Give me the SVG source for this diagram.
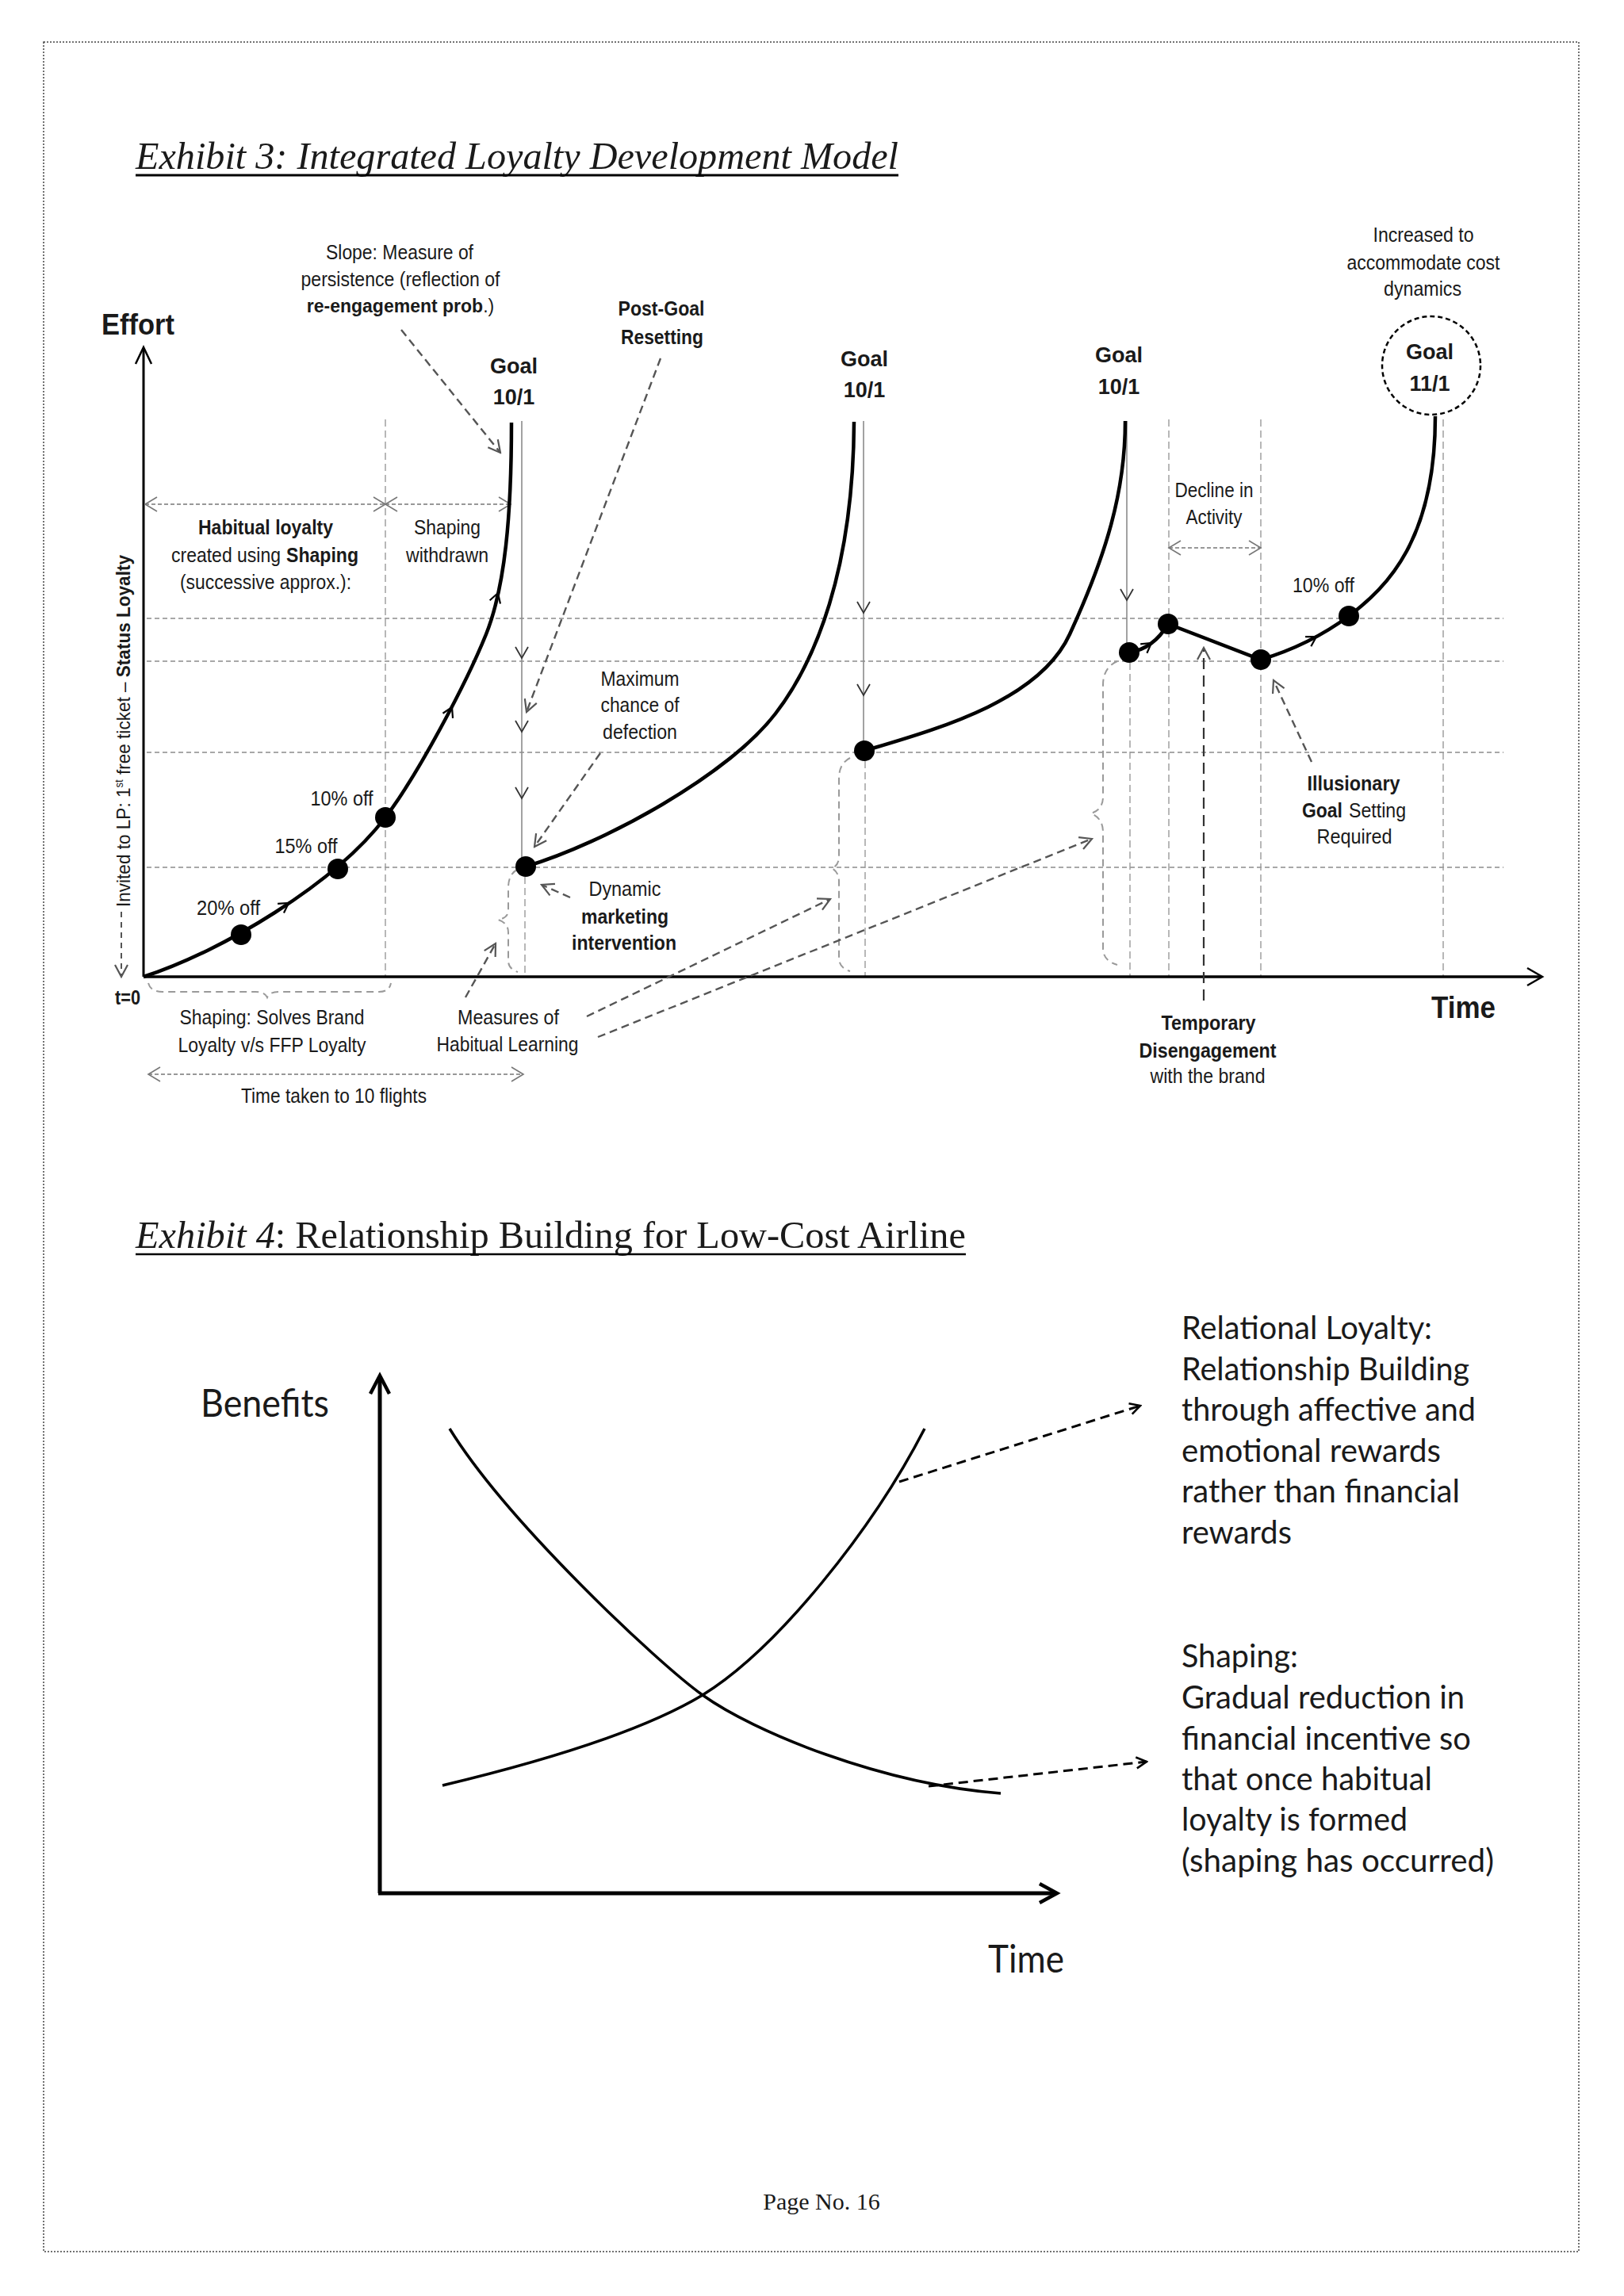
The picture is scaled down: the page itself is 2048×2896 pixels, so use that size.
<svg xmlns="http://www.w3.org/2000/svg" width="2048" height="2896" viewBox="0 0 2048 2896">
<defs>
<style>
text { fill:#1a1a1a; }
.t { font-family:'Liberation Sans',Arial,sans-serif; font-size:25px; }
.m { text-anchor:middle; }
.b { font-weight:bold; }
.goal { font-family:'Liberation Sans',Arial,sans-serif; font-size:27px; font-weight:bold; text-anchor:middle; }
.serif { font-family:'Liberation Serif','Times New Roman',serif; }
.e4 { font-family:Lato,'Noto Sans',sans-serif; font-size:40px; }
.grid { stroke:#8c8c8c; stroke-width:1.5; stroke-dasharray:6 4; fill:none; }
.vgrid { stroke:#9a9a9a; stroke-width:1.4; stroke-dasharray:9 5; fill:none; }
.vsolid { stroke:#8c8c8c; stroke-width:1.6; fill:none; }
.axis { stroke:#000; stroke-width:3.5; fill:none; }
.curve { stroke:#000; stroke-width:4.5; fill:none; }
.dot { fill:#000; }
.ann { stroke:#555; stroke-width:2.4; stroke-dasharray:10 6; fill:none; marker-end:url(#ah); }
.brace { stroke:#9a9a9a; stroke-width:2; stroke-dasharray:9 6; fill:none; }
.dbl { stroke:#777; stroke-width:1.6; stroke-dasharray:5 3; fill:none; marker-start:url(#ahg); marker-end:url(#ahg); }
.chev { fill:none; stroke:#000; stroke-width:2.2; }
.vchev { fill:none; stroke:#333; stroke-width:1.8; }
.e4line { stroke:#000; stroke-width:3.5; fill:none; }
.e4ann { stroke:#000; stroke-width:3; stroke-dasharray:12 7; fill:none; marker-end:url(#ahb); }
</style>
<marker id="ah" viewBox="-18 -10 20 20" markerWidth="20" markerHeight="20" refX="0" refY="0" orient="auto" markerUnits="userSpaceOnUse"><path d="M-15,-8 L0,0 L-15,8" fill="none" stroke="#555" stroke-width="2.2"/></marker>
<marker id="ahg" viewBox="-18 -11 20 22" markerWidth="20" markerHeight="22" refX="0" refY="0" orient="auto-start-reverse" markerUnits="userSpaceOnUse"><path d="M-15,-9 L0,0 L-15,9" fill="none" stroke="#777" stroke-width="1.6"/></marker>
<marker id="ahb" viewBox="-16 -9 18 18" markerWidth="18" markerHeight="18" refX="0" refY="0" orient="auto" markerUnits="userSpaceOnUse"><path d="M-13,-7 L0,0 L-13,7" fill="none" stroke="#000" stroke-width="2.6"/></marker>
<path id="chv" d="M-12,-7 L0,0 L-12,7"/>
<path id="vch" d="M-8,-14 L0,0 L8,-14"/>
</defs>

<rect x="0" y="0" width="2048" height="2896" fill="#fff"/>
<rect id="page-border" x="55" y="53" width="1936" height="2787" fill="none" stroke="#444" stroke-width="1.5" stroke-dasharray="2 2"/>

<g id="exhibit3-title">
<text class="serif" x="171" y="213" style="font-size:48px;font-style:italic" textLength="962" lengthAdjust="spacingAndGlyphs">Exhibit 3: Integrated Loyalty Development Model</text>
<line x1="171" y1="221" x2="1133" y2="221" stroke="#000" stroke-width="3"/>
</g>

<g id="exhibit3">
<g id="gridlines">
<path class="grid" d="M185,780 H1896 M185,834 H1896 M185,949 H1896 M185,1094 H1896"/>
<path class="vgrid" d="M486,529 V1232 M662,1106 V1232 M1091,960 V1232 M1425,836 V1232 M1474,529 V1232 M1590,529 V1232 M1820,529 V1232"/>
<path class="vsolid" d="M658,531 V1082 M1089,531 V936 M1421,531 V812"/>
<use href="#vch" class="vchev" x="658" y="830"/>
<use href="#vch" class="vchev" x="658" y="923"/>
<use href="#vch" class="vchev" x="658" y="1007"/>
<use href="#vch" class="vchev" x="1089" y="773"/>
<use href="#vch" class="vchev" x="1089" y="877"/>
<use href="#vch" class="vchev" x="1421" y="757"/>
</g>

<g id="axes">
<path class="axis" style="stroke-width:3" d="M181,1232 V439"/>
<path class="axis" style="stroke-width:2.5" d="M171,459 L181,438 L191,459"/>
<path class="axis" d="M181,1232 H1943"/>
<path class="axis" style="stroke-width:2.5" d="M1926,1221 L1945,1232 L1926,1243"/>
<text class="t b" x="128" y="422" style="font-size:37px" textLength="92" lengthAdjust="spacingAndGlyphs">Effort</text>
<text class="t b" x="1805" y="1284" style="font-size:38px" textLength="81" lengthAdjust="spacingAndGlyphs">Time</text>
<text class="t b" x="145" y="1267" style="font-size:26px" textLength="32" lengthAdjust="spacingAndGlyphs">t=0</text>
<text class="t" transform="translate(164,1144) rotate(-90)" style="font-size:24px" textLength="444" lengthAdjust="spacingAndGlyphs">Invited to LP: 1<tspan style="font-size:14px" dy="-9">st</tspan><tspan dy="9"> free ticket – </tspan><tspan class="b">Status Loyalty</tspan></text>
<path class="ann" style="stroke-width:2;stroke-dasharray:7 6" d="M153,1150 L153,1232"/>
</g>

<g id="braces">
<path class="brace" d="M187,1240 Q190,1251 205,1251 L322,1251 Q334,1251 337,1258 Q340,1251 352,1251 L478,1251 Q491,1251 493,1240"/>
<path class="brace" d="M652,1097 Q641,1103 641,1120 L641,1148 Q641,1158 628,1160 Q641,1164 641,1176 L641,1212 Q641,1222 653,1226"/>
<path class="brace" d="M1072,956 Q1058,963 1058,982 L1058,1080 Q1058,1092 1049,1095 Q1058,1100 1058,1112 L1058,1208 Q1058,1221 1072,1225"/>
<path class="brace" d="M1409,834 Q1391,842 1391,864 L1391,1005 Q1391,1021 1376,1026 Q1391,1032 1391,1050 L1391,1196 Q1391,1212 1409,1217"/>
</g>

<g id="connectors">
<path class="ann" d="M506,416 L631,571"/>
<path class="ann" d="M833,452 L664,898"/>
<path class="ann" d="M757,950 L674,1068"/>
<path class="ann" d="M719,1132 L683,1116"/>
<path class="ann" d="M587,1258 L625,1190"/>
<path class="ann" d="M740,1282 L1047,1134"/>
<path class="ann" d="M754,1308 L1377,1058"/>
<path class="ann" d="M1654,961 L1606,858"/>
<path class="ann" style="stroke:#333;stroke-dasharray:14 8;stroke-width:2.2" d="M1518,1262 L1518,817"/>
<path class="dbl" d="M183,636 H486"/>
<path class="dbl" d="M486,636 H644"/>
<path class="dbl" d="M187,1355 H660"/>
<path class="dbl" d="M1474,691 H1590"/>
<path class="e4ann" d="M1134,1869 L1438,1773"/>
<path class="e4ann" d="M1171,2253 L1446,2222"/>
</g>

<g id="curve-goal1">
<path class="curve" d="M181,1232 C280,1200 422,1115 486,1031 C527,977 588,862 613,800 C637,740 645,650 645,533"/>
<use href="#chv" class="chev" transform="translate(364,1139) rotate(-34)"/>
<use href="#chv" class="chev" transform="translate(570,892) rotate(-64)"/>
<use href="#chv" class="chev" transform="translate(628,748) rotate(-72)"/>
</g>
<g id="curve-goal2">
<path class="curve" d="M663,1093 C763,1063 918,978 978,900 C1028,835 1076,720 1077,532"/>
</g>
<g id="curve-goal3">
<path class="curve" d="M1090,947 C1180,920 1310,885 1349,800 C1395,700 1419,620 1419,531"/>
</g>
<g id="curve-goal4">
<path class="curve" d="M1424,823 Q1455,818 1473,787 L1590,832 C1630,820 1670,800 1701,777 C1750,740 1810,680 1810,525"/>
<use href="#chv" class="chev" transform="translate(1452,811) rotate(-36)"/>
<use href="#chv" class="chev" transform="translate(1660,803) rotate(-31)"/>
</g>

<g id="dot-20off"><circle class="dot" cx="304" cy="1179" r="13"/><text class="t m" x="288" y="1154" textLength="80" lengthAdjust="spacingAndGlyphs">20% off</text></g>
<g id="dot-15off"><circle class="dot" cx="426" cy="1096" r="13"/><text class="t m" x="386" y="1076" textLength="79" lengthAdjust="spacingAndGlyphs">15% off</text></g>
<g id="dot-10off"><circle class="dot" cx="486" cy="1031" r="13"/><text class="t m" x="431" y="1016" textLength="79" lengthAdjust="spacingAndGlyphs">10% off</text></g>
<g id="dot-reset1"><circle class="dot" cx="663" cy="1093" r="13"/></g>
<g id="dot-reset2"><circle class="dot" cx="1090" cy="947" r="13"/></g>
<g id="dot-a"><circle class="dot" cx="1424" cy="823" r="13"/></g>
<g id="dot-b"><circle class="dot" cx="1473" cy="787" r="13"/></g>
<g id="dot-c"><circle class="dot" cx="1590" cy="832" r="13"/></g>
<g id="dot-d"><circle class="dot" cx="1701" cy="777" r="13"/><text class="t m" x="1669" y="747" textLength="78" lengthAdjust="spacingAndGlyphs">10% off</text></g>

<g id="goal1"><text class="goal" x="648" y="471">Goal</text><text class="goal" x="648" y="510">10/1</text></g>
<g id="goal2"><text class="goal" x="1090" y="462">Goal</text><text class="goal" x="1090" y="501">10/1</text></g>
<g id="goal3"><text class="goal" x="1411" y="457">Goal</text><text class="goal" x="1411" y="497">10/1</text></g>
<g id="goal4">
<circle cx="1805" cy="461" r="62" fill="none" stroke="#000" stroke-width="2.5" stroke-dasharray="6 4"/>
<text class="goal" x="1803" y="453">Goal</text><text class="goal" x="1803" y="493">11/1</text>
</g>

<g id="label-slope">
<text class="t m" x="504" y="327" textLength="186" lengthAdjust="spacingAndGlyphs">Slope: Measure of</text>
<text class="t m" x="505" y="361" textLength="251" lengthAdjust="spacingAndGlyphs">persistence (reflection of</text>
<text class="t m" x="505" y="394" style="font-size:23px"><tspan class="b">re-engagement prob</tspan>.)</text>
</g>
<g id="label-postgoal">
<text class="t m b" x="834" y="398" textLength="109" lengthAdjust="spacingAndGlyphs">Post-Goal</text>
<text class="t m b" x="835" y="434" textLength="104" lengthAdjust="spacingAndGlyphs">Resetting</text>
</g>
<g id="label-increased">
<text class="t m" x="1795" y="305" textLength="127" lengthAdjust="spacingAndGlyphs">Increased to</text>
<text class="t m" x="1795" y="340" textLength="193" lengthAdjust="spacingAndGlyphs">accommodate cost</text>
<text class="t m" x="1794" y="373" textLength="98" lengthAdjust="spacingAndGlyphs">dynamics</text>
</g>
<g id="label-habitual">
<text class="t m b" x="335" y="674" textLength="170" lengthAdjust="spacingAndGlyphs">Habitual loyalty</text>
<text class="t" x="216" y="709" textLength="138" lengthAdjust="spacingAndGlyphs">created using</text>
<text class="t b" x="361" y="709" textLength="91" lengthAdjust="spacingAndGlyphs">Shaping</text>
<text class="t m" x="335" y="743" textLength="216" lengthAdjust="spacingAndGlyphs">(successive approx.):</text>
</g>
<g id="label-withdrawn">
<text class="t m" x="564" y="674" textLength="84" lengthAdjust="spacingAndGlyphs">Shaping</text>
<text class="t m" x="564" y="709" textLength="104" lengthAdjust="spacingAndGlyphs">withdrawn</text>
</g>
<g id="label-maximum">
<text class="t m" x="807" y="865" textLength="99" lengthAdjust="spacingAndGlyphs">Maximum</text>
<text class="t m" x="807" y="898" textLength="99" lengthAdjust="spacingAndGlyphs">chance of</text>
<text class="t m" x="807" y="932" textLength="94" lengthAdjust="spacingAndGlyphs">defection</text>
</g>
<g id="label-dynamic">
<text class="t m" x="788" y="1130" textLength="91" lengthAdjust="spacingAndGlyphs">Dynamic</text>
<text class="t m b" x="788" y="1165" textLength="110" lengthAdjust="spacingAndGlyphs">marketing</text>
<text class="t m b" x="787" y="1198" textLength="132" lengthAdjust="spacingAndGlyphs">intervention</text>
</g>
<g id="label-measures">
<text class="t m" x="641" y="1292" textLength="128" lengthAdjust="spacingAndGlyphs">Measures of</text>
<text class="t m" x="640" y="1326" textLength="179" lengthAdjust="spacingAndGlyphs">Habitual Learning</text>
</g>
<g id="label-shaping-solves">
<text class="t m" x="343" y="1292" textLength="233" lengthAdjust="spacingAndGlyphs">Shaping: Solves Brand</text>
<text class="t m" x="343" y="1327" textLength="237" lengthAdjust="spacingAndGlyphs">Loyalty v/s FFP Loyalty</text>
</g>
<g id="label-time-taken"><text class="t m" x="421" y="1391" textLength="234" lengthAdjust="spacingAndGlyphs">Time taken to 10 flights</text></g>
<g id="label-temporary">
<text class="t m b" x="1524" y="1299" textLength="119" lengthAdjust="spacingAndGlyphs">Temporary</text>
<text class="t m b" x="1523" y="1334" textLength="173" lengthAdjust="spacingAndGlyphs">Disengagement</text>
<text class="t m" x="1523" y="1366" textLength="145" lengthAdjust="spacingAndGlyphs">with the brand</text>
</g>
<g id="label-illusionary">
<text class="t m b" x="1707" y="997" textLength="117" lengthAdjust="spacingAndGlyphs">Illusionary</text>
<text class="t b" x="1642" y="1031" textLength="51" lengthAdjust="spacingAndGlyphs">Goal</text>
<text class="t" x="1701" y="1031" textLength="72" lengthAdjust="spacingAndGlyphs">Setting</text>
<text class="t m" x="1708" y="1064" textLength="95" lengthAdjust="spacingAndGlyphs">Required</text>
</g>
<g id="label-decline">
<text class="t m" x="1531" y="627" textLength="99" lengthAdjust="spacingAndGlyphs">Decline in</text>
<text class="t m" x="1531" y="661" textLength="71" lengthAdjust="spacingAndGlyphs">Activity</text>
</g>
</g>

<g id="exhibit4-title">
<text class="serif" x="171" y="1574" style="font-size:48px" textLength="1047" lengthAdjust="spacingAndGlyphs"><tspan style="font-style:italic">Exhibit 4</tspan>: Relationship Building for Low-Cost Airline</text>
<line x1="171" y1="1582" x2="1218" y2="1582" stroke="#000" stroke-width="2.5"/>
</g>

<g id="exhibit4">
<g id="e4-axes">
<path class="axis" style="stroke-width:5" d="M479,2388 V1738 M477,2388 H1330"/>
<path class="axis" style="stroke-width:4.5" d="M467,1758 L479,1735 L491,1758"/>
<path class="axis" style="stroke-width:4.5" d="M1311,2376 L1333,2388 L1311,2400"/>
<text class="e4" x="253" y="1787" style="font-size:48px" textLength="162" lengthAdjust="spacingAndGlyphs">Benefits</text>
<text class="e4" x="1246" y="2488" style="font-size:48px" textLength="96" lengthAdjust="spacingAndGlyphs">Time</text>
</g>
<g id="e4-shaping-curve"><path class="e4line" d="M567,1802 C640,1920 830,2098 886,2138 C950,2184 1110,2250 1262,2262"/></g>
<g id="e4-relational-curve"><path class="e4line" d="M558,2252 C650,2230 800,2190 886,2138 C980,2080 1100,1930 1166,1802"/></g>
<g id="e4-relational-label">
<text class="e4" x="1490" y="1689" textLength="316" lengthAdjust="spacingAndGlyphs">Relational Loyalty:</text>
<text class="e4" x="1490" y="1741" textLength="363" lengthAdjust="spacingAndGlyphs">Relationship Building</text>
<text class="e4" x="1490" y="1792" textLength="371" lengthAdjust="spacingAndGlyphs">through affective and</text>
<text class="e4" x="1490" y="1844" textLength="327" lengthAdjust="spacingAndGlyphs">emotional rewards</text>
<text class="e4" x="1490" y="1895" textLength="351" lengthAdjust="spacingAndGlyphs">rather than financial</text>
<text class="e4" x="1490" y="1947" textLength="139" lengthAdjust="spacingAndGlyphs">rewards</text>
</g>
<g id="e4-shaping-label">
<text class="e4" x="1490" y="2103" textLength="147" lengthAdjust="spacingAndGlyphs">Shaping:</text>
<text class="e4" x="1490" y="2155" textLength="357" lengthAdjust="spacingAndGlyphs">Gradual reduction in</text>
<text class="e4" x="1490" y="2207" textLength="365" lengthAdjust="spacingAndGlyphs">financial incentive so</text>
<text class="e4" x="1490" y="2258" textLength="316" lengthAdjust="spacingAndGlyphs">that once habitual</text>
<text class="e4" x="1490" y="2309" textLength="285" lengthAdjust="spacingAndGlyphs">loyalty is formed</text>
<text class="e4" x="1490" y="2361" textLength="394" lengthAdjust="spacingAndGlyphs">(shaping has occurred)</text>
</g>
</g>

<text class="serif m" x="1036" y="2787" style="font-size:30px">Page No. 16</text>
</svg>
